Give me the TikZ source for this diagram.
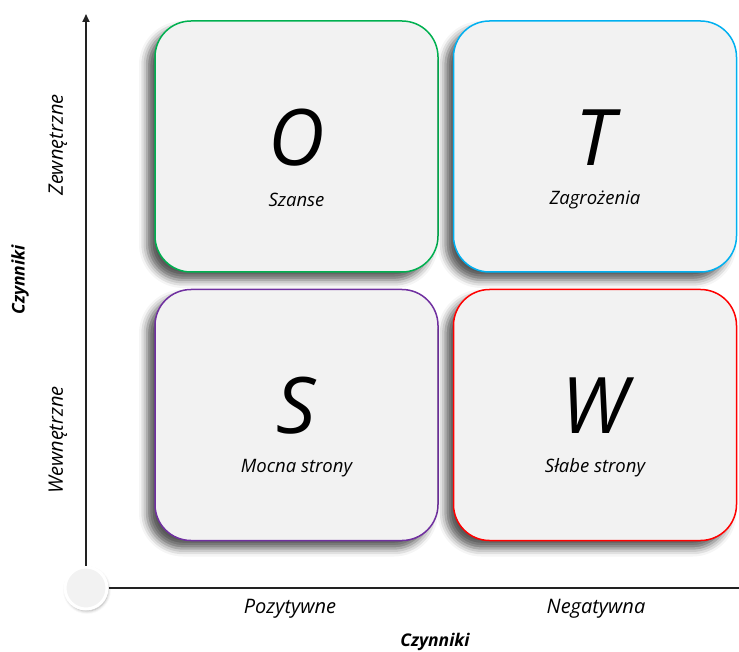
\documentclass[tikz,border=0pt]{standalone}
\usepackage{fontspec}
\setmainfont{Open Sans}
\usepackage{tikz}
\usetikzlibrary{arrows.meta,positioning,shadows.blur}
\definecolor{swotfill}{HTML}{F2F2F2}
\definecolor{swotgreen}{HTML}{00B050}
\definecolor{swotcyan}{HTML}{00B0F0}
\definecolor{swotpurple}{HTML}{7030A0}
\definecolor{swotred}{HTML}{FF0000}
\definecolor{swotaxis}{HTML}{222222}

\begin{document}
\begin{tikzpicture}[x=1pt,y=-1pt,
  quad/.style={draw,line width=1.5pt,fill=swotfill,rounded corners=36pt,
    minimum width=283pt,minimum height=251pt,
    blur shadow={shadow xshift=-8pt,shadow yshift=-8pt,shadow blur radius=8pt,shadow opacity=65}},
  letter/.style={font=\fontsize{78}{78}\selectfont\itshape},
  caption/.style={font=\fontsize{18.5}{22}\selectfont\itshape},
  axislabel/.style={font=\fontsize{20}{24}\selectfont\itshape},
  axistitle/.style={font=\fontsize{17.5}{21}\selectfont\bfseries\itshape},
  axisline/.style={draw=swotaxis,line width=1.8pt}]
\useasboundingbox (0,0) rectangle (739,652);
% quadrants
\node[quad,draw=swotgreen] (o) at (296.5,146.5) {};
\node[quad,draw=swotcyan,right=14pt of o] (t) {};
\node[quad,draw=swotpurple,below=16pt of o] (s) {};
\node[quad,draw=swotred,below=16pt of t] (w) {};
\node[letter,yshift=9pt] (oletter) at (o.center) {O};
\node[letter,yshift=9pt] (tletter) at (t.center) {T};
\node[letter,yshift=9pt] (sletter) at (s.center) {S};
\node[letter,yshift=9pt] (wletter) at (w.center) {W};
\node[caption,yshift=-53pt] (otext) at (o.center) {Szanse};
\node[caption,yshift=-53pt] (ttext) at (t.center) {Zagrożenia};
\node[caption,yshift=-53pt] (stext) at (s.center) {Mocna strony};
\node[caption,yshift=-53pt] (wtext) at (w.center) {Słabe strony};
% axes
\node[circle,draw=white,line width=3pt,fill=swotfill,minimum size=42pt,
  blur shadow={shadow xshift=1pt,shadow yshift=-2pt,shadow blur radius=3pt,shadow opacity=35}]
  (origin) at (86,588) {};
\coordinate (ytip) at (86,14);
\coordinate (xend) at (739,588);
\draw[axisline,-{Triangle[length=8pt,width=7pt]}] (origin.north) -- (ytip);
\draw[axisline] (origin.east) -- (xend);
% axis labels
\node[axislabel] (pos) at (290,609) {Pozytywne};
\node[axislabel] (neg) at (596,609) {Negatywna};
\node[axistitle] (xtitle) at (435,642) {Czynniki};
\node[axislabel,rotate=90] (zew) at (58,145) {Zewnętrzne};
\node[axislabel,rotate=90] (wew) at (58,440) {Wewnętrzne};
\node[axistitle,rotate=90] (ytitle) at (20,280) {Czynniki};
\end{tikzpicture}
\end{document}
